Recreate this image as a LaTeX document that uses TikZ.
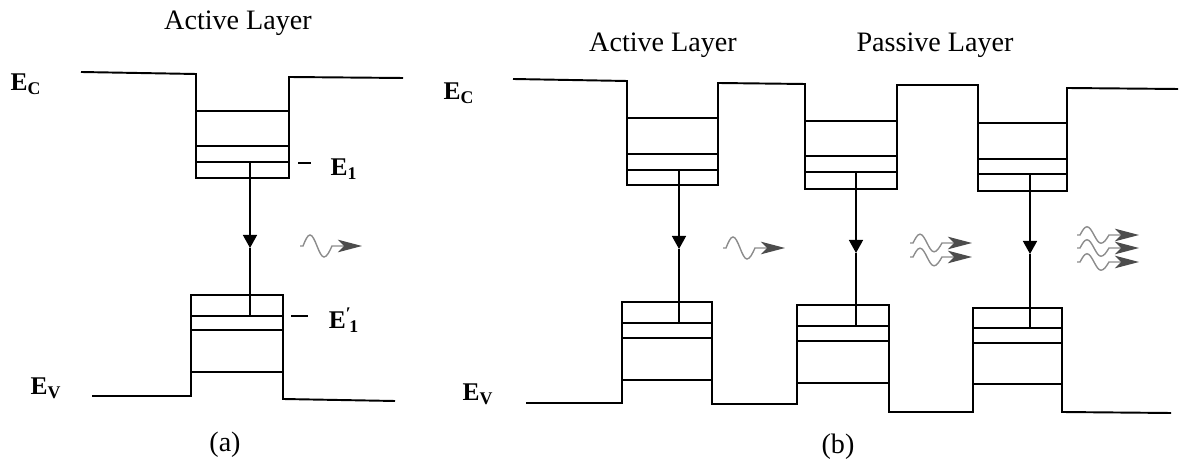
\documentclass[tikz,border=0pt]{standalone}
\usepackage{fontspec}
\setmainfont{Liberation Serif}
\usetikzlibrary{arrows.meta}

\begin{document}
\begin{tikzpicture}[
    x=0.2mm, y=-0.2mm,
    font=\fontsize{16}{19}\selectfont,
    band/.style = {line width=1.1pt, line join=miter},
    level/.style = {line width=1pt},
    trans/.style = {line width=0.8pt},
    transtip/.style = {line width=0.8pt, -{Triangle[length=2.6mm, width=2.8mm]}},
    elabel/.style = {font=\fontsize{14.5}{16}\selectfont\bfseries, inner sep=0pt},
    photon/.pic = {\draw[black!45, line width=0.8pt, -{Stealth[length=4.8mm, width=2.5mm, inset=1.2mm, color=black!70]}]
        (0,0) -- (3,0) sin (10,-11) cos (17,0) sin (24,11) cos (32,0) -- (62,0);}
]
    \useasboundingbox (0,0) rectangle (1185,466);

    \node (titleA) at (238,23) {Active Layer};
    \node[elabel] (ecA) at (26,84) {E\textsubscript{C}};
    \node[elabel] (evA) at (46,388) {E\textsubscript{V}};
    \node (capA) at (225,445) {(a)};

    \draw[band] (81,72) -- (196,74) -- (196,178) -- (289,178) -- (289,77) -- (403,78);
    \draw[level] (196,111) -- (289,111);
    \draw[level] (196,146) -- (289,146);
    \draw[level] (196,162) -- (289,162);

    \draw[band] (92,396) -- (191,396) -- (191,295) -- (283,295) -- (283,399) -- (395,401);
    \draw[level] (191,316) -- (283,316);
    \draw[level] (191,330) -- (283,330);
    \draw[level] (191,372) -- (283,372);

    \coordinate (e1dash) at (298,163);
    \coordinate (e1pdash) at (291,316);
    \draw[level] (e1dash) -- ++(13,0);
    \draw[level] (e1pdash) -- ++(17,0);
    \node[elabel] (e1) at (344,169) {E\textsubscript{1}};
    \node[elabel] (e1p) at (344,320) {E\textsuperscript{′}\kern-0.1em\textsubscript{1}};

    \coordinate (upA) at (250,162);
    \coordinate (midA) at (250,248);
    \coordinate (lowA) at (250,316);
    \draw[transtip] (upA) -- (midA);
    \draw[trans] (midA) -- (lowA);
    \pic at (300,246) {photon};

    \node (titleB) at (663,45) {Active Layer};
    \node (titleP) at (935,45) {Passive Layer};
    \node[elabel] (ecB) at (459,93) {E\textsubscript{C}};
    \node[elabel] (evB) at (478,394) {E\textsubscript{V}};
    \node (capB) at (838,447) {(b)};

    \draw[band] (513,79) -- (627,81) -- (627,185) -- (718,185) -- (718,83) -- (805,84) -- (805,189) -- (897,189)
        -- (897,85) -- (978,85) -- (978,191) -- (1067,191) -- (1067,88) -- (1178,89);
    \draw[level] (627,118) -- (718,118);
    \draw[level] (627,154) -- (718,154);
    \draw[level] (627,170) -- (718,170);
    \draw[level] (805,121) -- (897,121);
    \draw[level] (805,156) -- (897,156);
    \draw[level] (805,172) -- (897,172);
    \draw[level] (978,123) -- (1067,123);
    \draw[level] (978,159) -- (1067,159);
    \draw[level] (978,174) -- (1067,174);

    \draw[band] (526,403) -- (622,403) -- (622,302) -- (712,302) -- (712,404) -- (797,404) -- (797,305) -- (889,305)
        -- (889,412) -- (973,412) -- (973,308) -- (1062,308) -- (1062,412) -- (1171,413);
    \draw[level] (622,323) -- (712,323);
    \draw[level] (622,338) -- (712,338);
    \draw[level] (622,380) -- (712,380);
    \draw[level] (797,326) -- (889,326);
    \draw[level] (797,341) -- (889,341);
    \draw[level] (797,383) -- (889,383);
    \draw[level] (973,328) -- (1062,328);
    \draw[level] (973,343) -- (1062,343);
    \draw[level] (973,384) -- (1062,384);

    \coordinate (up1) at (679,170);
    \coordinate (mid1) at (679,249);
    \coordinate (low1) at (679,323);
    \coordinate (up2) at (856,172);
    \coordinate (mid2) at (856,253);
    \coordinate (low2) at (856,326);
    \coordinate (up3) at (1030,174);
    \coordinate (mid3) at (1030,254);
    \coordinate (low3) at (1030,328);
    \draw[transtip] (up1) -- (mid1);
    \draw[trans] (mid1) -- (low1);
    \draw[transtip] (up2) -- (mid2);
    \draw[trans] (mid2) -- (low2);
    \draw[transtip] (up3) -- (mid3);
    \draw[trans] (mid3) -- (low3);

    \pic at (723,248) {photon};
    \pic[yscale=0.8] at (910,243) {photon};
    \pic[yscale=0.8] at (910,257) {photon};
    \pic[yscale=0.75] at (1077,235) {photon};
    \pic[yscale=0.75] at (1077,248) {photon};
    \pic[yscale=0.75] at (1077,262) {photon};
\end{tikzpicture}
\end{document}
